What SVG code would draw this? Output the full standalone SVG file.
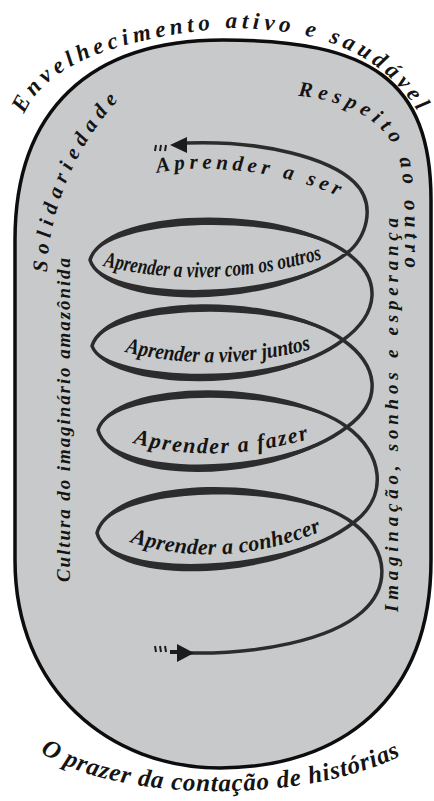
<svg xmlns="http://www.w3.org/2000/svg" width="434" height="801" viewBox="0 0 434 801">
<defs>
<style>
.t{font-family:"Liberation Serif","DejaVu Serif",serif;font-style:italic;font-weight:bold;fill:#141414;}
.outer{fill:#c8c9cb;stroke:#0d0d0d;stroke-width:3.5;}
.sp{fill:none;stroke:#2c2c2c;stroke-width:3.5;stroke-linecap:round;stroke-linejoin:round;}
.lens{fill:#2c2c2c;}
.ah{fill:#1c1c1c;}
.dash{stroke:#1c1c1c;stroke-width:2;}
</style>
<path id="p-top" d="M24,114 C42,72 100,40 225,28 C320,28 388,52 426,126"/>
<path id="p-sol" d="M47,272 C48,220 70,150 122,96"/>
<path id="p-resp" d="M298,96 C345,100 385,120 398,155 C404,172 405,200 405,268"/>
<path id="p-cult" d="M70,582 L70,256"/>
<path id="p-imag" d="M398,612 L398,216"/>
<path id="p-bot" d="M40,752 C120,805 320,805 415,748"/>
<path id="p-ser" d="M157,173 C200,163 280,170 338,196"/>
<path id="p-outros" d="M103,266 Q212,292 325,258"/>
<path id="p-juntos" d="M125,352 Q215,374 312,349"/>
<path id="p-fazer" d="M133,443 Q215,466 312,438"/>
<path id="p-conh" d="M130,542 Q222,572 325,530"/>
</defs>
<rect width="434" height="801" fill="#ffffff"/>
<g id="frame">
<path class="outer" d="M15,240 C15,110 90,40 223,40 C370,40 431,80 431,200 L431,560 C431,700 340,768 220,768 C110,768 15,690 15,560 Z"/>
</g>
<g id="connectors">
<path class="sp" d="M190,653 C260,654 330,640 362,612 C387,590 393,553 353,523 C293,478 111,479 97,533 C111,584 283,577 353,523 C390,496 382,452 347,427 C287,382 112,383 98,430 C112,482 277,481 347,427 C384,400 378,365 343,340 C283,295 106,298 92,346 C106,384 273,394 343,340 C380,313 382,278 347,253 C287,208 104,211 90,260 C104,305 277,307 347,253 C365,240 378,205 354,182 C330,159 265,140 186,143"/>
<path class="lens" d="M347,253 C287,203 101,206 90,260 C107,216 287,213 347,253Z"/>
<path class="lens" d="M90,260 C101,310 277,312 347,253 C277,302 107,300 90,260Z"/>
<path class="lens" d="M343,340 C283,290 103,293 92,346 C109,303 283,300 343,340Z"/>
<path class="lens" d="M92,346 C103,389 273,399 343,340 C273,389 109,379 92,346Z"/>
<path class="lens" d="M347,427 C287,377 109,378 98,430 C115,388 287,387 347,427Z"/>
<path class="lens" d="M98,430 C109,487 277,486 347,427 C277,476 115,477 98,430Z"/>
<path class="lens" d="M353,523 C293,473 108,474 97,533 C114,484 293,483 353,523Z"/>
<path class="lens" d="M97,533 C108,589 283,582 353,523 C283,572 114,579 97,533Z"/>
<polygon class="ah" points="170,145 187,137 187,153"/>
<line class="dash" x1="156" y1="145" x2="155" y2="151"/>
<line class="dash" x1="161" y1="145" x2="160" y2="151"/>
<line class="dash" x1="166" y1="145" x2="165" y2="151"/>
<line x1="170" y1="652" x2="180" y2="652" stroke="#1c1c1c" stroke-width="4"/>
<polygon class="ah" points="194,653 177,644 177,662"/>
<line class="dash" x1="155" y1="646" x2="156" y2="652"/>
<line class="dash" x1="160" y1="646" x2="161" y2="652"/>
<line class="dash" x1="165" y1="646" x2="166" y2="652"/>
</g>
<g id="label-envelhecimento"><text class="t" font-size="23"><textPath href="#p-top" textLength="448" lengthAdjust="spacing">Envelhecimento ativo e saudável</textPath></text></g>
<g id="label-solidariedade"><text class="t" font-size="21"><textPath href="#p-sol" textLength="190" lengthAdjust="spacing">Solidariedade</textPath></text></g>
<g id="label-respeito"><text class="t" font-size="21"><textPath href="#p-resp" textLength="236" lengthAdjust="spacing">Respeito ao outro</textPath></text></g>
<g id="label-cultura"><text class="t" font-size="19"><textPath href="#p-cult" textLength="324" lengthAdjust="spacing">Cultura do imaginário amazônida</textPath></text></g>
<g id="label-imaginacao"><text class="t" font-size="19"><textPath href="#p-imag" textLength="394" lengthAdjust="spacing">Imaginação, sonhos e esperança</textPath></text></g>
<g id="label-prazer"><text class="t" font-size="25"><textPath href="#p-bot" textLength="372" lengthAdjust="spacing">O prazer da contação de histórias</textPath></text></g>
<g id="node-ser"><text class="t" font-size="21"><textPath href="#p-ser" textLength="185" lengthAdjust="spacing">Aprender a ser</textPath></text></g>
<g id="node-outros"><text class="t" font-size="22"><textPath href="#p-outros" textLength="222" lengthAdjust="spacingAndGlyphs">Aprender a viver com os outros</textPath></text></g>
<g id="node-juntos"><text class="t" font-size="22"><textPath href="#p-juntos" textLength="188" lengthAdjust="spacingAndGlyphs">Aprender a viver juntos</textPath></text></g>
<g id="node-fazer"><text class="t" font-size="22"><textPath href="#p-fazer" textLength="178" lengthAdjust="spacing">Aprender a fazer</textPath></text></g>
<g id="node-conhecer"><text class="t" font-size="22"><textPath href="#p-conh" textLength="196" lengthAdjust="spacing">Aprender a conhecer</textPath></text></g>
</svg>
